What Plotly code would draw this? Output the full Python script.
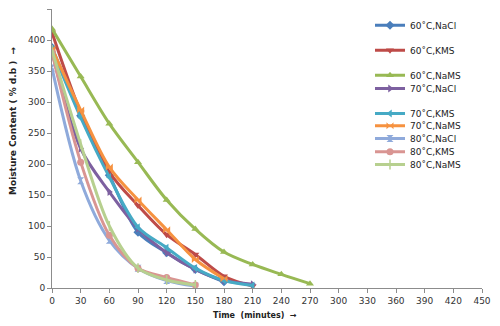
import plotly.graph_objects as go

# time in minutes
time_min = [0, 30, 60, 90, 120, 150, 180, 210, 240, 270]

# moisture content (% d.b) per series
nacl_60 = [388, 278, 182, 90, 57, 30, 10]
kms_60 = [412, 283, 187, 133, 86, 54, 19, 3]
nams_60 = [418, 341, 265, 203, 142, 95, 58, 38, 22, 7]
nacl_70 = [381, 225, 155, 96, 57, 30, 12, 6]
kms_70 = [385, 275, 179, 98, 65, 32, 12, 4]
nams_70 = [386, 287, 195, 142, 94, 46, 15]
nacl_80 = [355, 173, 77, 32, 12, 3]
kms_80 = [380, 203, 85, 32, 17, 5]
nams_80 = [384, 232, 100, 32, 13, 5]

series_names = ["60˚C,NaCl", "60˚C,KMS", "60˚C,NaMS", "70˚C,NaCl", "70˚C,KMS",
                "70˚C,NaMS", "80˚C,NaCl", "80˚C,KMS", "80˚C,NaMS"]
series_values = [nacl_60, kms_60, nams_60, nacl_70, kms_70, nams_70, nacl_80, kms_80, nams_80]

x_ticks = list(range(0, 451, 30))
y_ticks = list(range(0, 451, 50))

colors = ["#4A7EBB", "#BE4B48", "#98B954", "#7D60A0", "#46AAC5",
          "#F69240", "#8FAADB", "#D99592", "#B7D08F"]
symbols = ["diamond", "triangle-down", "triangle-up", "triangle-right", "triangle-left",
           "bowtie", "hourglass", "circle", "line-ns"]

# legend item vertical centres (page pixels from top) reproduce the uneven spacing
legend_py = [26.7, 51.7, 76.7, 90, 115, 127.3, 140, 153.3, 166]

OFF = 8  # browser body margin offsets the figure
W, H = 500 - OFF, 326 - OFF
L, T = 52 - OFF, 9 - OFF
R = W - (482 - OFF)
B = H - (288 - OFF)
pw, ph = W - L - R, H - T - B


def px_x(page_x):
    return (page_x - OFF - L) / pw


def px_y(page_y):
    return (H - B - (page_y - OFF)) / ph


FONT = "DejaVu Sans"
fig = go.Figure()
layout_legends = {}
for i, (name, vals) in enumerate(zip(series_names, series_values)):
    lg = "legend" if i == 0 else f"legend{i+1}"
    sym = symbols[i]
    marker = dict(symbol=sym, size=7, color=colors[i],
                  line=dict(width=1.5 if sym == "line-ns" else 0, color=colors[i]))
    fig.add_trace(go.Scatter(
        x=time_min[:len(vals)], y=vals, name=name, mode="lines+markers",
        line=dict(color=colors[i], width=3, shape="spline", smoothing=0.9),
        marker=marker, legend=lg,
    ))
    layout_legends[lg] = dict(
        x=px_x(370), xanchor="left",
        y=px_y(legend_py[i] - 1.5), yanchor="middle",
        bgcolor="rgba(0,0,0,0)", borderwidth=0,
        font=dict(family=FONT, size=9, color="#222222"),
        itemwidth=30,
    )

fig.update_layout(
    width=W, height=H,
    margin=dict(l=L, r=R, t=T, b=B),
    paper_bgcolor="white", plot_bgcolor="white",
    font=dict(family=FONT, size=9, color="#333333"),
    showlegend=True,
    **layout_legends,
)
fig.update_xaxes(
    range=[0, 450], tickvals=x_ticks, ticktext=[str(v) for v in x_ticks],
    showgrid=False, zeroline=False, showline=True, linecolor="#8C8C8C", linewidth=1,
    ticks="outside", ticklen=4, tickcolor="#8C8C8C",
    tickfont=dict(family=FONT, size=9, color="#333333"),
)
fig.update_yaxes(
    range=[0, 450], tickvals=y_ticks, ticktext=[str(v) for v in y_ticks],
    showgrid=False, zeroline=False, showline=True, linecolor="#8C8C8C", linewidth=1,
    ticks="outside", ticklen=4, tickcolor="#8C8C8C",
    tickfont=dict(family=FONT, size=9, color="#333333"),
)
fig.add_annotation(
    text="<b>Time  (minutes)  →</b>", xref="paper", yref="paper",
    x=px_x(255), y=px_y(315), xanchor="center", yanchor="middle",
    showarrow=False, font=dict(family=FONT, size=8, color="#222222"),
)
fig.add_annotation(
    text="<b>Moisture Content ( % d.b )  →</b>", xref="paper", yref="paper",
    x=px_x(13), y=px_y(121), xanchor="center", yanchor="middle",
    textangle=-90, showarrow=False, font=dict(family=FONT, size=9, color="#222222"),
)
fig.write_html("out.html")
